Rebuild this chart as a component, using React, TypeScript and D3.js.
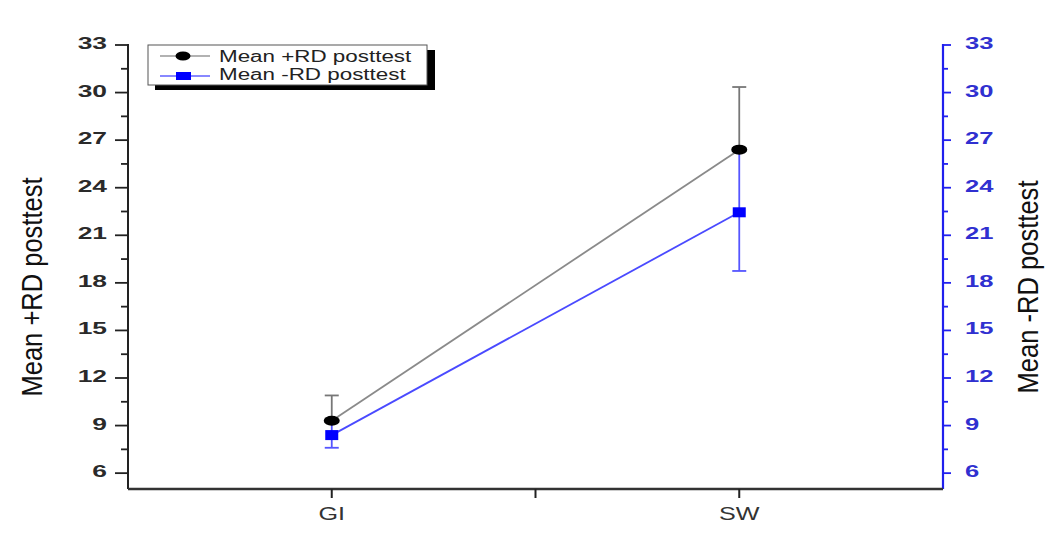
import React from 'react';
import * as d3 from 'd3';

const categories = ['GI', 'SW'];
const plusRdMean = [9.3, 26.4];
const plusRdErr = [1.6, 3.95];
const minusRdMean = [8.4, 22.45];
const minusRdErr = [0.8, 3.7];
const yTicks = [6, 9, 12, 15, 18, 21, 24, 27, 30, 33];

const W = 1062;
const H = 535;
const left = 128;
const right = 943;
const top = 45;
const bottom = 489;

const font = 'Arial, "Liberation Sans", sans-serif';

// the source picture is stretched sideways, so text is widened with scaleX
const Label = ({ x, y, s, anchor, fill, size, children, weight }: any) => (
  <text
    transform={`translate(${x},${y}) scale(${s},1)`}
    textAnchor={anchor}
    fontSize={size}
    fill={fill}
    fontFamily={font}
    fontWeight={weight || 'normal'}
  >
    {children}
  </text>
);

const App = () => {
  const x = d3.scaleLinear().domain([0.5, 2.5]).range([left, right]);
  const y = d3.scaleLinear().domain([5, 33]).range([bottom, top]);
  const minor = d3.range(7.5, 33, 3);
  const xPos = categories.map((_, i) => x(i + 1));

  const line = d3
    .line<number>()
    .x((_, i) => xPos[i])
    .y((d) => y(d));

  return (
    <svg width={W} height={H} style={{ position: 'absolute', left: 0, top: 0 }}>
      <rect width={W} height={H} fill="#fff" />

      {/* left axis */}
      <line x1={left} x2={left} y1={top - 1} y2={bottom} stroke="#222" strokeWidth={2} />
      {yTicks.map((t) => (
        <g key={'l' + t}>
          <line x1={left - 13} x2={left} y1={y(t)} y2={y(t)} stroke="#222" strokeWidth={1.8} />
          <Label x={107} y={y(t) + 4} s={1.6} anchor="end" fill="#2a2a2a" size={16.5} weight="bold">
            {t}
          </Label>
        </g>
      ))}
      {minor.map((t) => (
        <line key={'lm' + t} x1={left - 7} x2={left} y1={y(t)} y2={y(t)} stroke="#222" strokeWidth={1.8} />
      ))}

      {/* right axis */}
      <line x1={right} x2={right} y1={top - 1} y2={bottom} stroke="#2020ee" strokeWidth={2.2} />
      {yTicks.map((t) => (
        <g key={'r' + t}>
          <line x1={right} x2={right + 8} y1={y(t)} y2={y(t)} stroke="#2020ee" strokeWidth={1.8} />
          <Label x={965} y={y(t) + 4} s={1.55} anchor="start" fill="#3030d0" size={16.5} weight="bold">
            {t}
          </Label>
        </g>
      ))}
      {minor.map((t) => (
        <line key={'rm' + t} x1={right} x2={right + 5} y1={y(t)} y2={y(t)} stroke="#2020ee" strokeWidth={1.8} />
      ))}

      {/* bottom axis */}
      <line x1={left} x2={right} y1={bottom} y2={bottom} stroke="#333" strokeWidth={2.5} />
      {[1, 1.5, 2].map((t) => (
        <line key={'x' + t} x1={x(t)} x2={x(t)} y1={bottom} y2={bottom + 9} stroke="#222" strokeWidth={2} />
      ))}
      {categories.map((c, i) => (
        <Label key={c} x={xPos[i]} y={520} s={1.4} anchor="middle" fill="#333" size={18}>
          {c}
        </Label>
      ))}

      {/* axis titles */}
      <text
        transform={`translate(42,${287}) scale(1.3,1) rotate(-90)`}
        textAnchor="middle"
        fontSize={22}
        fill="#111"
        fontFamily={font}
        textLength={219}
        lengthAdjust="spacingAndGlyphs"
      >
        Mean +RD posttest
      </text>
      <text
        transform={`translate(1038,${287}) scale(1.3,1) rotate(-90)`}
        textAnchor="middle"
        fontSize={22}
        fill="#111"
        fontFamily={font}
        textLength={213}
        lengthAdjust="spacingAndGlyphs"
      >
        Mean -RD posttest
      </text>

      {/* +RD series */}
      <path d={line(plusRdMean) || ''} fill="none" stroke="#8a8a8a" strokeWidth={1.8} />
      {plusRdMean.map((m, i) => (
        <g key={'pe' + i} stroke="#777" strokeWidth={1.8}>
          <line x1={xPos[i]} x2={xPos[i]} y1={y(m)} y2={y(m + plusRdErr[i])} />
          <line x1={xPos[i] - 7} x2={xPos[i] + 7} y1={y(m + plusRdErr[i])} y2={y(m + plusRdErr[i])} />
        </g>
      ))}

      {/* -RD series */}
      <path d={line(minusRdMean) || ''} fill="none" stroke="#4a4aff" strokeWidth={1.8} />
      {minusRdMean.map((m, i) => (
        <g key={'me' + i} stroke="#5555ff" strokeWidth={1.8}>
          <line x1={xPos[i]} x2={xPos[i]} y1={y(m + minusRdErr[i])} y2={y(m - minusRdErr[i])} />
          <line x1={xPos[i] - 7} x2={xPos[i] + 7} y1={y(m - minusRdErr[i])} y2={y(m - minusRdErr[i])} />
        </g>
      ))}
      {plusRdMean.map((m, i) => (
        <ellipse key={'pc' + i} cx={xPos[i]} cy={y(m)} rx={8} ry={5} fill="#000" />
      ))}
      {minusRdMean.map((m, i) => (
        <rect key={'ms' + i} x={xPos[i] - 6.5} y={y(m) - 5} width={13} height={10} fill="#0000ff" />
      ))}

      {/* legend */}
      <rect x={155} y={50} width={280} height={40} fill="#000" />
      <rect x={148} y={45} width={279} height={40} fill="#fff" stroke="#555" strokeWidth={1} />
      <line x1={160} x2={210} y1={56} y2={56} stroke="#999" strokeWidth={1.5} />
      <ellipse cx={183} cy={56} rx={7.5} ry={4.5} fill="#000" />
      <Label x={219} y={62} s={1.4} anchor="start" fill="#222" size={16}>
        Mean +RD posttest
      </Label>
      <line x1={160} x2={210} y1={76} y2={76} stroke="#6060ff" strokeWidth={1.5} />
      <rect x={176} y={72} width={15} height={8} fill="#0000ff" />
      <Label x={219} y={80} s={1.4} anchor="start" fill="#222" size={16}>
        Mean -RD posttest
      </Label>
    </svg>
  );
};

export default App;
